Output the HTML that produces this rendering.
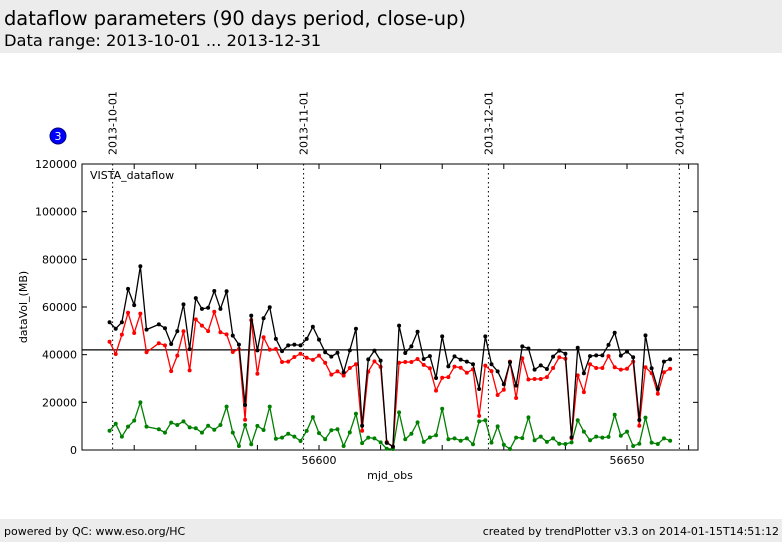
<!DOCTYPE html>
<html><head><meta charset="utf-8"><style>
body{margin:0;width:782px;height:542px;background:#fff;font-family:"DejaVu Sans","Liberation Sans",sans-serif;overflow:hidden}
svg text{font-family:"DejaVu Sans","Liberation Sans",sans-serif}
</style></head><body>
<svg id="c" width="782" height="542" xmlns="http://www.w3.org/2000/svg">
<rect x="0" y="0" width="782" height="53" fill="#ececec"/>
<text x="4" y="25" font-size="19.4" fill="#000">dataflow parameters (90 days period, close-up)</text>
<text x="4" y="46" font-size="16.3" fill="#000">Data range: 2013-10-01 ... 2013-12-31</text>
<rect x="0" y="519" width="782" height="23" fill="#ececec"/>
<text x="4" y="535" font-size="11">powered by QC: www.eso.org/HC</text>
<text x="779" y="535" font-size="11" text-anchor="end">created by trendPlotter v3.3 on 2014-01-15T14:51:12</text>
<circle cx="58" cy="136" r="8" fill="#0000ff" stroke="#000080"/>
<text x="58" y="140" font-size="11" fill="#fff" text-anchor="middle">3</text>
<g id="g"></g>
</svg>
<script>
const days=[0,1,2,3,4,5,6,8,9,10,11,12,13,14,15,16,17,18,19,20,21,22,23,24,25,26,27,28,29,30,31,32,33,34,35,36,37,38,39,40,41,42,43,44,45,46,47,48,49,50,51,52,53,54,55,56,57,58,59,60,61,62,63,64,65,66,67,68,69,70,71,72,73,74,75,76,77,78,79,80,81,82,83,84,85,86,87,88,89,90,91];
const blackVals=[53600,50900,53600,67600,60800,77100,50500,52700,51100,44500,49900,61100,42300,63700,59200,59700,66700,59200,66600,48000,44200,18900,56400,41800,55300,59900,46600,41500,43900,44200,43900,46600,51700,46300,41000,39200,40800,32600,41800,50900,10200,38000,41700,37500,3000,1400,52200,40700,43500,49600,38200,39400,30200,47700,35100,39300,37900,37100,36000,25600,47700,36000,33000,27600,36800,27000,43500,42600,33700,35500,34000,39200,41700,40400,5300,42900,32200,39400,39700,39700,44100,49200,39600,41300,38900,12600,48100,34300,25600,37100,38100];
const redVals=[45400,40300,48400,57600,49100,57200,41000,44800,43900,33100,39600,49800,33400,54800,52200,49900,58000,49400,48500,41100,42300,12700,54500,32000,47300,42100,42400,36900,37100,39000,40400,38700,37800,39600,36600,31600,33000,31200,34400,36000,8100,32900,37200,34900,3300,1400,36600,36900,36900,38200,35700,34300,24900,30300,30600,35000,34500,32400,33900,14300,35400,33100,23100,25300,37100,21800,38500,29600,29800,29800,30600,34400,38900,38300,5000,31300,24300,36000,34400,34400,39400,34700,33700,34100,37100,10200,34700,32200,23600,32600,34100];
const greenVals=[8100,11000,5600,9800,12300,20000,9800,8700,7300,11500,10500,12000,9500,9100,7300,10200,8500,10500,18200,7300,1700,10500,2400,10100,8400,18200,4700,5200,6800,5600,3800,8000,13800,7100,4500,8300,8700,1700,7400,15200,2900,5200,4900,3200,500,400,15800,4500,6800,11600,3400,5300,6200,17300,4500,4900,3900,4900,2400,12000,12500,3100,9900,2200,400,5200,5000,13700,4100,5600,3400,4900,2600,2500,3200,12500,7700,4100,5600,5200,5500,14800,6000,7700,1700,2600,13600,3100,2500,4900,3900];
const refLine=[42000];
const yTicks=[0,20000,40000,60000,80000,100000,120000];
const xTickLabels=[56600,56650];
const xMinor=[56570,56580,56590,56600,56610,56620,56630,56640,56650,56660];
const dateLabels=["2013-10-01","2013-11-01","2013-12-01","2014-01-01"];
const dateMjd=[56566.5,56597.5,56627.5,56658.5];
const mjd0=56566;

const L=82,R=698,T=164,B=450;
const X=m=>319+(m-56600)*6.16;
const Y=v=>B-(v/120000)*(B-T);
const g=document.getElementById('g');
const NS="http://www.w3.org/2000/svg";
function mk(tag,attrs){const e=document.createElementNS(NS,tag);for(const k in attrs)e.setAttribute(k,attrs[k]);g.appendChild(e);return e;}

dateMjd.forEach((m,i)=>{
  const x=X(m);
  const l=mk('line',{x1:x,y1:T,x2:x,y2:B,stroke:'#000','stroke-dasharray':'1.5,3','stroke-width':1});
  
  
  const t=mk('text',{x:0,y:0,'font-size':11,transform:`translate(${x+4},155) rotate(-90)`});
  t.textContent=dateLabels[i];
  
  
});
const rl=mk('line',{x1:L,y1:Y(refLine[0]),x2:R,y2:Y(refLine[0]),stroke:'#000','stroke-width':1.2});


const fr=mk('rect',{x:L,y:T,width:R-L,height:B-T,fill:'none',stroke:'#000','stroke-width':1});


yTicks.forEach(v=>{
  const y=Y(v);
  mk('line',{x1:L,y1:y,x2:L+5,y2:y,stroke:'#000'});
  mk('line',{x1:R,y1:y,x2:R-5,y2:y,stroke:'#000'});
  const t=mk('text',{x:L-5,y:y+4,'font-size':11,'text-anchor':'end'});
  t.textContent=v;
  
  
});
xMinor.forEach(m=>{
  const x=X(m);
  mk('line',{x1:x,y1:B,x2:x,y2:B-5,stroke:'#000'});
  mk('line',{x1:x,y1:T,x2:x,y2:T+5,stroke:'#000'});
});
xTickLabels.forEach(m=>{
  const t=mk('text',{x:X(m),y:B+14,'font-size':11,'text-anchor':'middle'});
  t.textContent=m;
  
  
});
const xl=mk('text',{x:390,y:479,'font-size':11,'text-anchor':'middle'});
xl.textContent='mjd_obs';


const yl=mk('text',{x:0,y:0,'font-size':11,'text-anchor':'middle',transform:'translate(27,307) rotate(-90)'});
yl.textContent='dataVol_(MB)';


const pl=mk('text',{x:90,y:179,'font-size':11});
pl.textContent='VISTA_dataflow';



function series(vals,color,name){
  const pts=vals.map((v,i)=>[X(mjd0+days[i]),Y(v)]);
  const p=mk('polyline',{points:pts.map(p=>p.join(',')).join(' '),fill:'none',stroke:color,'stroke-width':1.3});
  
  
  pts.forEach(q=>{
    const c=mk('circle',{cx:q[0],cy:q[1],r:2,fill:color});
    
    
  });
}
series(greenVals,'#008000','green-series');
series(redVals,'#ff0000','red-series');
series(blackVals,'#000000','black-series');
</script>
</body></html>
